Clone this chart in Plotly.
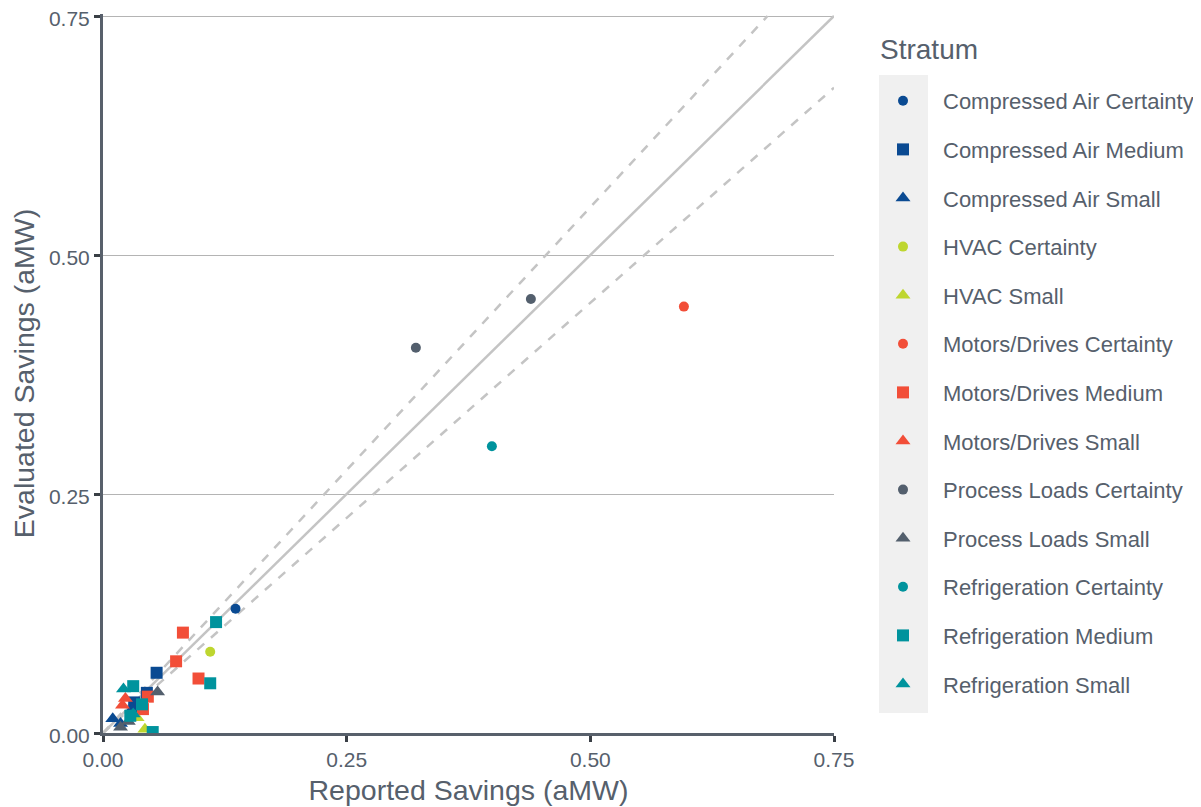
import plotly.graph_objects as go

# ---- data ----
strata = [
    "Compressed Air Certainty", "Compressed Air Medium", "Compressed Air Small",
    "HVAC Certainty", "HVAC Small",
    "Motors/Drives Certainty", "Motors/Drives Medium", "Motors/Drives Small",
    "Process Loads Certainty", "Process Loads Small",
    "Refrigeration Certainty", "Refrigeration Medium", "Refrigeration Small",
]
reported = {
    "Compressed Air Certainty": [0.136],
    "Compressed Air Medium": [0.055, 0.045, 0.032],
    "Compressed Air Small": [0.010, 0.018, 0.030],
    "HVAC Certainty": [0.110],
    "HVAC Small": [0.043, 0.035],
    "Motors/Drives Certainty": [0.596],
    "Motors/Drives Medium": [0.082, 0.075, 0.098, 0.041, 0.046],
    "Motors/Drives Small": [0.023, 0.020],
    "Process Loads Certainty": [0.321, 0.439],
    "Process Loads Small": [0.056, 0.026, 0.018],
    "Refrigeration Certainty": [0.399],
    "Refrigeration Medium": [0.116, 0.110, 0.031, 0.051, 0.028, 0.040],
    "Refrigeration Small": [0.021, 0.031],
}
evaluated = {
    "Compressed Air Certainty": [0.130],
    "Compressed Air Medium": [0.063, 0.042, 0.032],
    "Compressed Air Small": [0.015, 0.010, 0.025],
    "HVAC Certainty": [0.085],
    "HVAC Small": [0.004, 0.016],
    "Motors/Drives Certainty": [0.446],
    "Motors/Drives Medium": [0.105, 0.075, 0.057, 0.025, 0.038],
    "Motors/Drives Small": [0.036, 0.029],
    "Process Loads Certainty": [0.403, 0.454],
    "Process Loads Small": [0.043, 0.012, 0.006],
    "Refrigeration Certainty": [0.300],
    "Refrigeration Medium": [0.116, 0.052, 0.049, 0.001, 0.018, 0.030],
    "Refrigeration Small": [0.046, 0.020],
}
colors = {
    "Compressed Air": "#0a4a92",
    "HVAC": "#bed62f",
    "Motors/Drives": "#f24e38",
    "Process Loads": "#535f6d",
    "Refrigeration": "#00939d",
}
symbols = {"Certainty": "circle", "Medium": "square", "Small": "triangle-up"}
sizes = {"Certainty": 10, "Medium": 12, "Small": 13}
ratio_lines = [1.0, 1.1, 0.9]
axis_max = 0.75
tick_vals = [0, 0.25, 0.5, 0.75]
tick_text = ["0.00", "0.25", "0.50", "0.75"]
legend_title = "Stratum"

# page offset (browser body margin)
OFF = 8
W, H = 1201 - OFF, 807 - OFF
TOP_PAD = 2  # extra pixels above 0.75 so its gridline is drawn
PL, PR, PT, PB = 103 - OFF, 834 - OFF, 16 - TOP_PAD - OFF, 733 - OFF  # plot area in div coords
pw, ph = PR - PL, PB - PT
y_top = axis_max * ph / (ph - TOP_PAD)

fig = go.Figure()

# reference lines
for r in ratio_lines:
    xe = min(axis_max, axis_max / r)
    fig.add_trace(go.Scatter(
        x=[0, xe], y=[0, xe * r], mode="lines", showlegend=False, hoverinfo="skip",
        line=dict(color="#c4c4c4", width=2.5, dash="solid" if r == 1.0 else "dash"),
    ))

for i, s in enumerate(strata):
    cat, size = s.rsplit(" ", 1)
    fig.add_trace(go.Scatter(
        x=reported[s], y=evaluated[s], mode="markers", name=s,
        legendgroup=f"g{i}",
        marker=dict(color=colors[cat], symbol=symbols[size], size=sizes[size], line=dict(width=0)),
    ))

TXT = "#56606c"
FONT = "Liberation Sans, Arial, sans-serif"

def px_x(px):
    return (px - OFF - PL) / pw

def px_y(py):
    return (PB - (py - OFF)) / ph

fig.update_layout(
    width=W, height=H,
    margin=dict(l=PL, r=W - PR, t=PT, b=H - PB, autoexpand=False),
    plot_bgcolor="white", paper_bgcolor="white",
    font=dict(family=FONT, color=TXT),
    legend=dict(
        font=dict(size=22, color=TXT),
        x=px_x(863), xanchor="left", y=px_y(80), yanchor="top",
        tracegroupgap=17, bgcolor="rgba(0,0,0,0)",
        itemwidth=70,
    ),
    shapes=[dict(
        type="rect", xref="paper", yref="paper", layer="below",
        x0=px_x(879), x1=px_x(928), y0=px_y(713), y1=px_y(75),
        fillcolor="#f0f0f0", line=dict(width=0),
    )],
    annotations=[dict(
        text=legend_title, xref="paper", yref="paper", showarrow=False,
        x=px_x(878), y=px_y(49), xanchor="left", yanchor="middle",
        font=dict(family=FONT, size=28, color=TXT),
    )],
)
axis_common = dict(
    tickvals=tick_vals, ticktext=tick_text,
    zeroline=False, automargin=False, ticklabeloverflow="allow",
    showline=True, linecolor="#58606b", linewidth=3,
    ticks="outside", ticklen=6, tickwidth=3, tickcolor="#3a3f46",
    tickfont=dict(family=FONT, size=21, color=TXT),
)
fig.update_xaxes(
    **axis_common, showgrid=False, range=[0, axis_max],
    title=dict(text="Reported Savings (aMW)", standoff=10,
               font=dict(family=FONT, size=28.5, color=TXT)),
)
fig.update_yaxes(
    **axis_common, showgrid=True, gridcolor="#b4b4b4", gridwidth=1,
    range=[0, y_top], ticklabelshift=3,
    title=dict(text="Evaluated Savings (aMW)", standoff=10,
               font=dict(family=FONT, size=28.5, color=TXT)),
)

fig.write_html("out.html")
